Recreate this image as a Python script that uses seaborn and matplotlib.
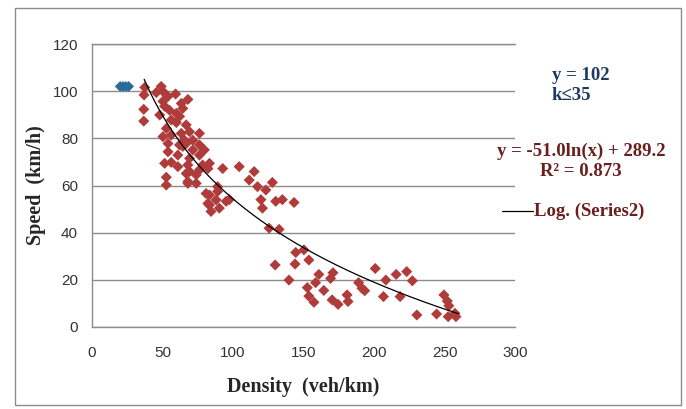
import numpy as np
import pandas as pd
import seaborn as sns
import matplotlib.pyplot as plt
from matplotlib.lines import Line2D
from matplotlib.patches import Rectangle

# free-flow points (Series1)
free_density = [20, 22, 24, 26]
free_speed = [102, 102, 102, 102]

# congested points (Series2)
density = [
    37.4, 36.9, 36.7, 36.7, 45.6, 49.1, 48.0,
    50.3, 53.9, 59.3, 63.3, 68.0, 50.3, 51.5, 55.0, 59.8, 64.4, 62.1, 56.2, 59.8,
    52.7, 66.8, 50.3, 56.2, 63.3, 69.2, 76.2, 53.9, 65.6, 71.5, 62.1, 76.2, 64.4,
    71.5, 66.8, 79.7,
    53.9, 60.9, 76.2, 51.5, 56.2, 60.9, 68.0, 69.2, 76.2, 52.7, 52.7, 68.0, 73.9,
    69.2, 83.3, 82.2, 92.7, 66.8, 68.0, 73.9, 78.5,
    80.9, 82.2, 83.3, 89.1, 88.0, 83.3, 84.4, 90.3, 95.1, 97.4, 89.1,
    104.4, 115.0, 111.5, 117.4, 123.3, 127.9, 119.8, 120.9, 130.3, 135.0, 143.3,
    125.6, 132.7, 129.9,
    144.5, 150.3, 153.8, 144.0, 139.7, 152.7, 158.6, 160.9, 153.8, 157.4, 164.4,
    169.2, 170.9, 170.3, 174.5, 180.9, 181.6, 189.1, 191.5, 193.4,
    200.9, 208.4, 206.7, 215.7, 218.5, 223.2, 227.2, 230.4, 244.4, 249.6, 252.0,
    253.1, 252.6, 257.4, 258.1,
]
speed = [
    101.6, 98.4, 92.3, 87.3, 99.4, 102.0, 89.9,
    99.9, 97.8, 98.8, 94.8, 96.5, 95.7, 93.6, 91.9, 90.6, 92.7, 89.3, 87.8, 86.7,
    84.2, 85.7, 80.7, 81.4, 82.1, 82.8, 82.1, 77.8, 79.2, 79.2, 77.2, 77.2, 76.6,
    75.1, 77.8, 75.1,
    74.3, 72.9, 72.9, 69.4, 69.8, 68.0, 68.7, 65.9, 66.6, 63.5, 60.2, 61.7, 60.9,
    71.5, 69.4, 67.2, 67.2, 65.1, 60.9, 64.5, 68.7,
    56.6, 52.4, 56.0, 57.5, 53.9, 51.7, 49.0, 50.4, 53.3, 54.0, 59.5,
    68.0, 65.9, 62.3, 59.5, 58.1, 61.3, 54.0, 50.4, 53.3, 54.0, 52.8,
    41.9, 41.4, 26.3,
    31.6, 32.7, 28.4, 26.7, 19.9, 16.7, 18.8, 22.3, 13.1, 10.5, 15.5,
    20.6, 23.0, 11.5, 9.6, 13.6, 10.8, 18.8, 16.4, 15.4,
    24.8, 19.9, 12.9, 22.3, 12.9, 23.5, 19.6, 5.1, 5.5, 13.6, 11.0,
    9.0, 4.4, 5.8, 4.4,
]

# logarithmic trendline from the chart: y = a*ln(x) + b
log_a = -51.0
log_b = 289.2
trend_range = [37, 260]

x_ticks = [0, 50, 100, 150, 200, 250, 300]
y_ticks = [0, 20, 40, 60, 80, 100, 120]

red = "#B03B3B"
blue = "#2B6A9A"
navy = "#1F3A60"
maroon = "#6B1E1E"
serif = ["Liberation Serif", "DejaVu Serif"]
narrow = ["Liberation Sans Narrow", "Liberation Sans", "DejaVu Sans"]

sns.set_theme(style="white")

fig = plt.figure(figsize=(6.86, 4.09), dpi=100)
W, H = 686, 409
ax = fig.add_axes([92 / W, 1 - 327 / H, (515 - 92) / W, (327 - 44) / H])

df = pd.DataFrame({"density": density, "speed": speed})
df_free = pd.DataFrame({"density": free_density, "speed": free_speed})

sns.scatterplot(data=df, x="density", y="speed", marker="D", s=32,
                color=red, edgecolor="none", ax=ax, zorder=3)
sns.scatterplot(data=df_free, x="density", y="speed", marker="D", s=30,
                color=blue, edgecolor="none", ax=ax, zorder=3)

xs = np.linspace(trend_range[0], trend_range[1], 200)
sns.lineplot(x=xs, y=log_a * np.log(xs) + log_b, color="black", lw=0.9,
             ax=ax, zorder=4)

ax.set_xlim(0, 300)
ax.set_ylim(0, 120)
ax.set_xticks(x_ticks)
ax.set_yticks(y_ticks)
ax.yaxis.grid(True, color="#8C8C8C", lw=1)
ax.xaxis.grid(False)
ax.spines["right"].set_visible(False)
for side in ["left", "bottom", "top"]:
    ax.spines[side].set_color("#8C8C8C")
    ax.spines[side].set_linewidth(1)
ax.tick_params(length=0, pad=10, labelsize=11, labelcolor="#333333")
for lab in ax.get_xticklabels() + ax.get_yticklabels():
    lab.set_family(narrow)
ax.tick_params(axis="x", pad=14)

ax.set_xlabel("Density  (veh/km)", family=serif, fontweight="bold",
              fontsize=14.5, labelpad=12)
ax.set_ylabel("Speed  (km/h)", family=serif, fontweight="bold",
              fontsize=14.5, labelpad=5)

# annotations on the right
fig.text(552 / W, 1 - 75 / H, "y = 102", family=serif, fontweight="bold",
         fontsize=13.5, color=navy, va="center")
fig.text(552 / W, 1 - 96 / H, "k\u226435", family=serif, fontweight="bold",
         fontsize=13.5, color=navy, va="center")
fig.text(581 / W, 1 - 151 / H, "y = -51.0ln(x) + 289.2", family=serif,
         fontweight="bold", fontsize=13.5, color=maroon, ha="center", va="center")
fig.text(581 / W, 1 - 172 / H, "R\u00b2 = 0.873", family=serif,
         fontweight="bold", fontsize=13.5, color=maroon, ha="center", va="center")
fig.add_artist(Line2D([502 / W, 533 / W], [1 - 211 / H, 1 - 211 / H],
                      color="black", lw=0.9))
fig.text(534 / W, 1 - 211 / H, "Log. (Series2)", family=serif,
         fontweight="bold", fontsize=13.5, color=maroon, va="center")

# outer chart frame
fig.add_artist(Rectangle((15 / W, 1 - 405 / H), (681 - 15) / W, (405 - 8) / H,
                         fill=False, edgecolor="#8C8C8C", lw=1))

fig.savefig("out.png", dpi=100)
plt.close(fig)
